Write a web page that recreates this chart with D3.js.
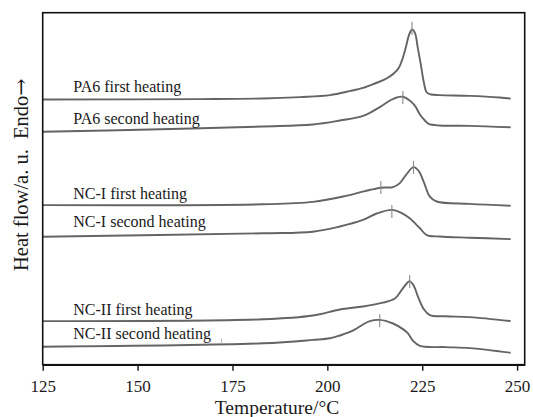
<!DOCTYPE html>
<html>
<head>
<meta charset="utf-8">
<script src="https://cdn.jsdelivr.net/npm/d3@7"></script>
<style>
  body { margin: 0; background: #fff; }
  text { font-family: "Liberation Serif", "Times New Roman", serif; fill: #1a1a1a; }
</style>
</head>
<body>
<svg id="chart" width="533" height="417"></svg>
<script>
// ---- Data (temperature °C, heat flow a.u.) ----
const seriesLabels = [
  "PA6 first heating", "PA6 second heating",
  "NC-I first heating", "NC-I second heating",
  "NC-II first heating", "NC-II second heating"
];
const pa6First = [[125,66.2],[166.4,66.3],[183.0,66.45],[192.8,66.8],[200.7,67.3],[205.9,68.3],[209.4,69.1],[212.5,70.2],[215.7,71.5],[218.6,73.8],[219.6,75.8],[220.7,79.3],[221.5,82.3],[222.3,83.7],[223.1,82.8],[223.8,79.3],[224.6,75.1],[225.4,70.6],[226.2,67.95],[227.3,67.45],[229.6,67.3],[237.5,67.1],[245.4,66.7],[248.3,66.45]];
const pa6Second = [[125,58.15],[153.3,58.7],[183.0,59.45],[196.2,59.95],[203.3,60.95],[209.4,62.1],[213.8,64.3],[216.5,65.95],[218.3,66.7],[219.9,66.9],[221.7,65.95],[223.1,64.6],[224.4,62.45],[225.7,60.95],[226.7,60.1],[229.6,59.7],[237.5,59.6],[248.3,59.25]];
const nc1First = [[125,39.8],[183.0,40.0],[196.2,40.6],[204.9,42.1],[209.9,43.3],[214.1,44.15],[217.3,44.3],[219.1,45.3],[220.7,47.3],[222.7,49.3],[224.1,48.3],[225.4,45.6],[227.0,41.9],[228.8,40.7],[237.5,40.1],[248.3,39.65]];
const nc1Second = [[125,31.9],[183.0,32.75],[196.2,33.15],[203.3,34.45],[209.4,36.1],[213.0,37.7],[217.0,38.6],[219.6,37.8],[221.7,36.5],[224.4,34.0],[226.2,32.3],[229.6,31.95],[237.5,31.65],[248.3,31.3]];
const nc2First = [[125,10.8],[183.0,11.25],[196.2,12.2],[203.3,13.7],[209.4,14.45],[214.6,15.4],[217.8,16.45],[219.6,18.6],[220.9,20.2],[221.7,20.8],[222.8,19.6],[223.8,17.1],[225.4,13.8],[227.0,12.3],[231.2,12.0],[237.5,11.8],[248.3,10.8]];
const nc2Second = [[125,4.4],[183.0,5.25],[196.2,6.1],[200.7,6.5],[203.3,7.2],[206.7,8.4],[209.4,9.95],[211.2,10.8],[213.8,11.1],[217.3,10.2],[219.9,8.8],[221.2,7.8],[222.5,5.95],[224.4,4.6],[231.2,4.3],[237.5,4.05],[248.3,2.9]];
const allSeries = [pa6First, pa6Second, nc1First, nc1Second, nc2First, nc2Second];

// peak / onset markers: [temperature, heat flow]
const markerPoints = [[222.3,84.0],[219.9,66.7],[214.1,44.2],[222.7,49.2],[217.0,38.2],[221.7,20.7],[213.8,10.9]];
const faintMarkers = [[172.1,5.8]];

const xTicks = [125, 150, 175, 200, 225, 250];
const xTitle = "Temperature/°C";
const yTitleMain = "Heat flow/a. u.";
const yTitleEndo = "Endo";
const yTitleArrow = "→";

// ---- Layout ----
const L = 42.7, R = 524.7, T = 12.7, B = 364.7;
const labelBaselines = [92, 124, 198.5, 227, 315, 338.5];

const svg = d3.select("#chart");
const x = d3.scaleLinear().domain([125, 252]).range([L, R]);
const y = d3.scaleLinear().domain([0, 88]).range([364.3, 12.3]);

// curves
const line = d3.line().x(d => x(d[0])).y(d => y(d[1])).curve(d3.curveCatmullRom.alpha(0.5));
svg.append("g").selectAll("path").data(allSeries).join("path")
  .attr("d", line)
  .attr("fill", "none")
  .attr("stroke", "#646464")
  .attr("stroke-width", 1.9)
  .attr("stroke-linejoin", "round");

// markers
svg.append("g").selectAll("line").data(markerPoints).join("line")
  .attr("x1", d => x(d[0])).attr("x2", d => x(d[0]))
  .attr("y1", d => y(d[1]) - 6.5).attr("y2", d => y(d[1]) + 6.5)
  .attr("stroke", "#8a8a8a").attr("stroke-width", 1.1);
svg.append("g").selectAll("line").data(faintMarkers).join("line")
  .attr("x1", d => x(d[0])).attr("x2", d => x(d[0]))
  .attr("y1", d => y(d[1]) - 2.5).attr("y2", d => y(d[1]) + 2.5)
  .attr("stroke", "#b5b5b5").attr("stroke-width", 1);

// series labels
svg.append("g").selectAll("text").data(seriesLabels).join("text")
  .attr("x", 73.3)
  .attr("y", (d, i) => labelBaselines[i])
  .attr("font-size", 16)
  .text(d => d);

// frame
svg.append("rect")
  .attr("x", L).attr("y", T).attr("width", R - L).attr("height", B - T)
  .attr("fill", "none").attr("stroke", "#111").attr("stroke-width", 1.6);

// x axis
const xAxis = svg.append("g").attr("transform", `translate(0,${B})`)
  .call(d3.axisBottom(x).tickValues(xTicks).tickSize(6).tickSizeOuter(0));
xAxis.select(".domain").attr("stroke", "#111").attr("stroke-width", 1.6);
xAxis.selectAll(".tick line").attr("stroke", "#111").attr("stroke-width", 1.4);
xAxis.selectAll(".tick text")
  .attr("y", 27.5).attr("dy", 0)
  .attr("font-size", 17)
  .attr("font-family", '"Liberation Serif", "Times New Roman", serif')
  .attr("fill", "#1a1a1a");

// axis titles
svg.append("text")
  .attr("x", 277).attr("y", 413.5)
  .attr("text-anchor", "middle")
  .attr("font-size", 19.5)
  .text(xTitle);

svg.append("text")
  .attr("transform", "rotate(-90)")
  .attr("x", -271).attr("y", 28)
  .attr("font-size", 20.5)
  .text(yTitleMain);
const endo = svg.append("text")
  .attr("transform", "rotate(-90)")
  .attr("x", -139).attr("y", 28)
  .attr("font-size", 20.5);
endo.append("tspan").text(yTitleEndo);
endo.append("tspan")
  .attr("font-family", '"DejaVu Serif", serif')
  .attr("font-size", 20.5)
  .text(yTitleArrow);
</script>
</body>
</html>
